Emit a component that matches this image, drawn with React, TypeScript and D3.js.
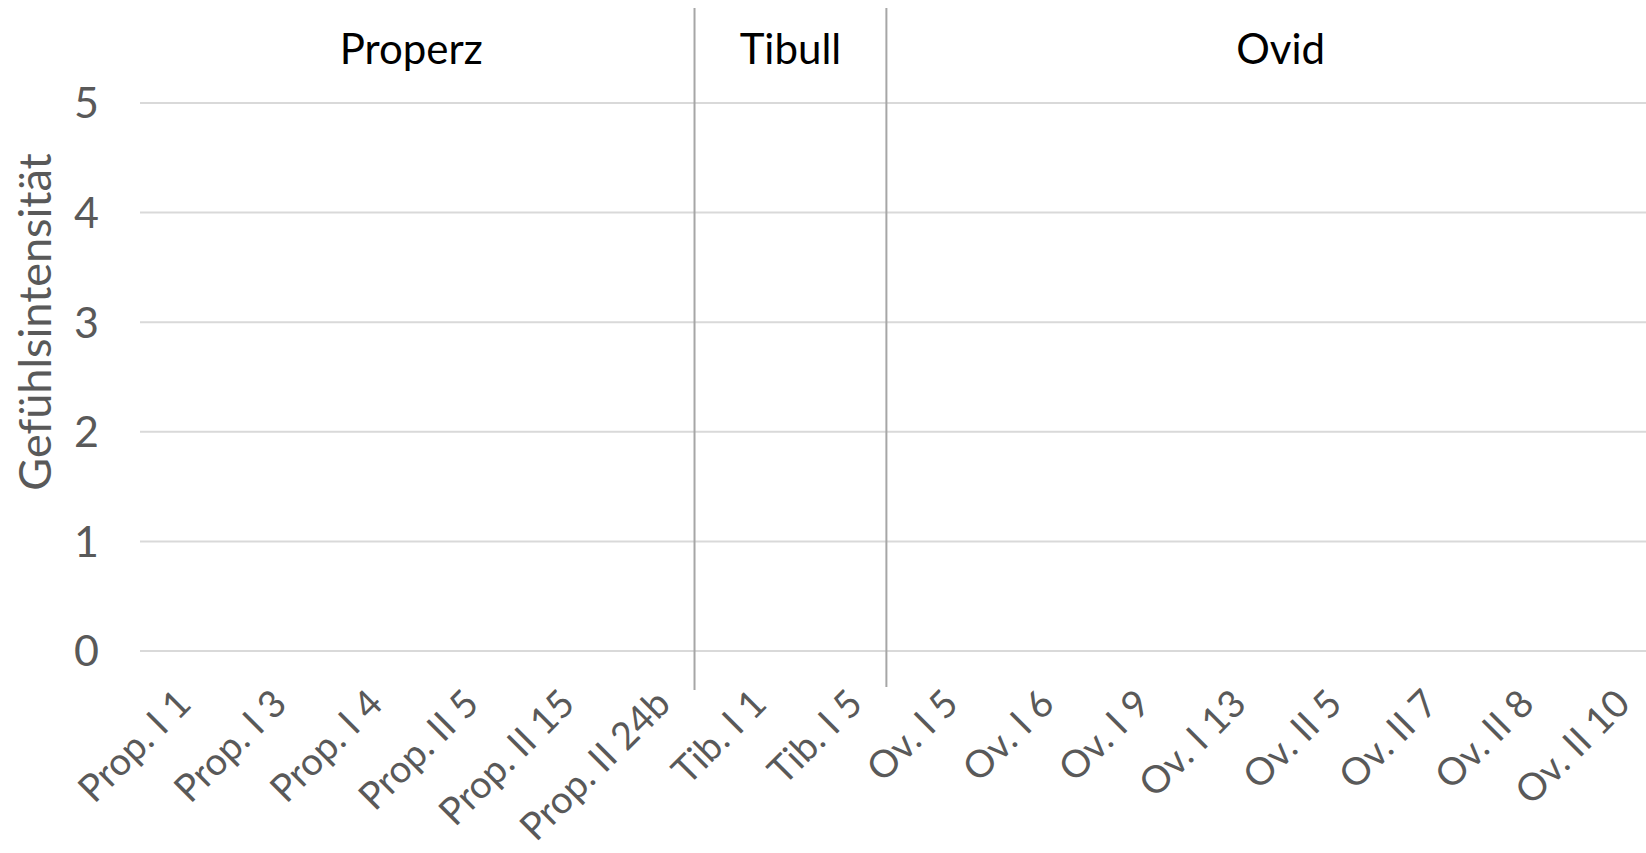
import { useEffect, useRef } from 'react';
import * as d3 from 'd3';

// categories (poems) along the x axis
const categories = [
  'Prop. I 1', 'Prop. I 3', 'Prop. I 4', 'Prop. II 5', 'Prop. II 15', 'Prop. II 24b',
  'Tib. I 1', 'Tib. I 5',
  'Ov. I 5', 'Ov. I 6', 'Ov. I 9', 'Ov. I 13', 'Ov. II 5', 'Ov. II 7', 'Ov. II 8', 'Ov. II 10',
];

// author groups and the first poem of each
const groupNames = ['Properz', 'Tibull', 'Ovid'];
const groupFirst = ['Prop. I 1', 'Tib. I 1', 'Ov. I 5'];

// the series has no values in the picture, only the frame is drawn
const values: (number | null)[] = categories.map(() => null);

const yTicks = [0, 1, 2, 3, 4, 5];
const yTitle = 'Gefühlsintensität';

export default function App() {
  const chartRef = useRef<SVGSVGElement | null>(null);

  useEffect(() => {
    const width = 1646;
    const height = 853;
    const left = 140;
    const right = 1675; // plot runs a bit past the window edge
    const top = 103;
    const bottom = 651;
    const font = 'Lato, "Open Sans", sans-serif';
    const grey = '#595959';

    const svg = d3.select(chartRef.current)
      .attr('width', width)
      .attr('height', height);
    svg.selectAll('*').remove();

    const x = d3.scaleBand<string>().domain(categories).range([left, right]);
    const y = d3.scaleLinear().domain([0, 5]).range([bottom, top]);
    const step = x.step();

    // gridlines
    svg.append('g')
      .selectAll('line')
      .data(yTicks)
      .enter()
      .append('line')
      .attr('x1', left)
      .attr('x2', right)
      .attr('y1', d => y(d))
      .attr('y2', d => y(d))
      .attr('stroke', '#d9d9d9')
      .attr('stroke-width', 2);

    // y tick labels
    svg.append('g')
      .selectAll('text')
      .data(yTicks)
      .enter()
      .append('text')
      .attr('x', 99)
      .attr('y', d => y(d))
      .attr('dy', '0.36em')
      .attr('text-anchor', 'end')
      .attr('font-family', font)
      .attr('font-size', 43)
      .attr('fill', grey)
      .text(d => d);

    // y axis title
    svg.append('text')
      .attr('transform', `translate(51,${(top + bottom) / 2 - 55}) rotate(-90)`)
      .attr('text-anchor', 'middle')
      .attr('font-family', font)
      .attr('font-size', 45)
      .attr('fill', grey)
      .text(yTitle);

    // points of the (empty) series
    svg.append('g')
      .selectAll('circle')
      .data(values.map((v, i) => ({ v, c: categories[i] })).filter(d => d.v !== null))
      .enter()
      .append('circle')
      .attr('cx', d => (x(d.c) as number) + x.bandwidth() / 2)
      .attr('cy', d => y(d.v as number))
      .attr('r', 6)
      .attr('fill', '#4472c4');

    // category labels, rotated
    svg.append('g')
      .selectAll('text')
      .data(categories)
      .enter()
      .append('text')
      .attr('transform', d => `translate(${(x(d) as number) + x.bandwidth() / 2 + 5},${bottom + 55}) rotate(-45)`)
      .attr('text-anchor', 'end')
      .attr('font-family', font)
      .attr('font-size', 38)
      .attr('fill', grey)
      .text(d => d);

    // group separators (drawn slightly left of the band edge, as in the original)
    const sepX = groupFirst.slice(1).map(c => (x(c) as number) - step * 0.22);
    svg.append('g')
      .selectAll('line')
      .data(sepX)
      .enter()
      .append('line')
      .attr('x1', d => d)
      .attr('x2', d => d)
      .attr('y1', 8)
      .attr('y2', (d, i) => (i === 0 ? 690 : 687))
      .attr('stroke', '#a6a6a6')
      .attr('stroke-width', 2);

    // group titles, centred between the separators
    const edges = [left - 12, ...sepX, right];
    svg.append('g')
      .selectAll('text')
      .data(groupNames)
      .enter()
      .append('text')
      .attr('x', (d, i) => (edges[i] + edges[i + 1]) / 2)
      .attr('y', 64)
      .attr('text-anchor', 'middle')
      .attr('font-family', font)
      .attr('font-size', 42)
      .attr('fill', '#000')
      .text(d => d);
  }, []);

  return (
    <svg ref={chartRef} style={{ position: 'absolute', left: 0, top: 0, background: '#fff' }}></svg>
  );
}
